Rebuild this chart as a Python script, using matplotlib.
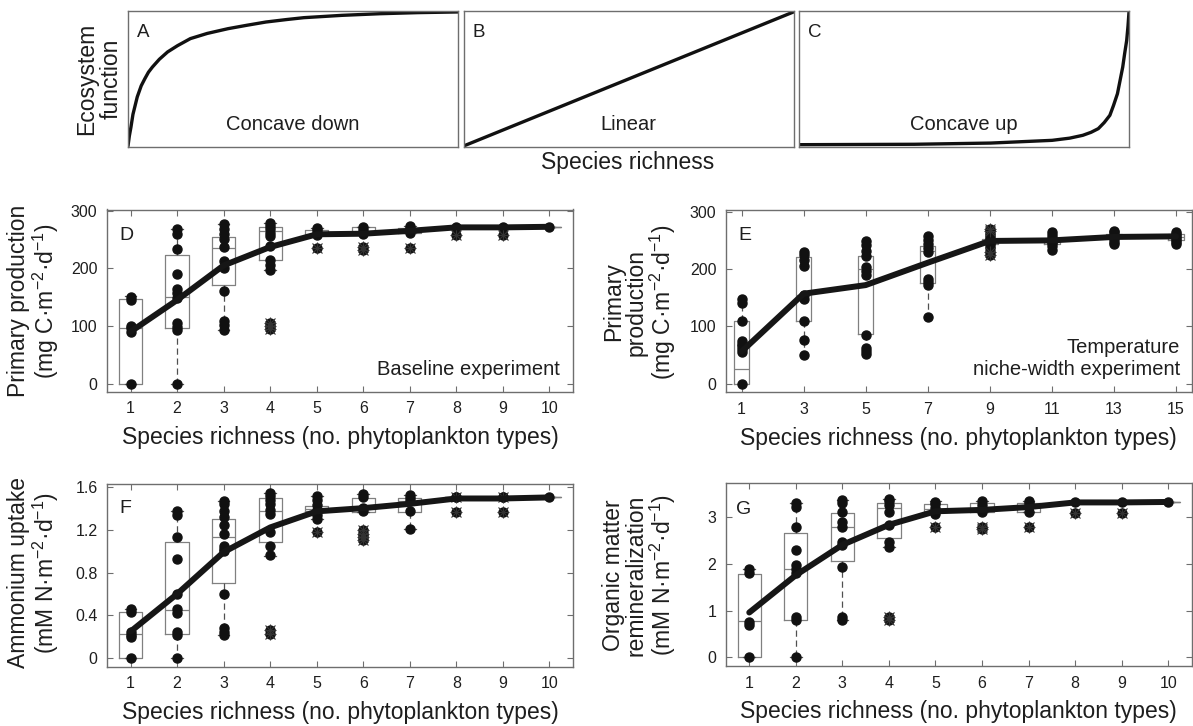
import matplotlib
matplotlib.use('Agg')
import matplotlib.pyplot as plt

plt.rcParams['font.family'] = ['Liberation Sans', 'DejaVu Sans']
plt.rcParams['mathtext.fontset'] = 'custom'
plt.rcParams['mathtext.rm'] = 'Liberation Sans'
plt.rcParams['mathtext.it'] = 'Liberation Sans:italic'
plt.rcParams['mathtext.bf'] = 'Liberation Sans:bold'

# ---------------- data: conceptual curves ----------------
A_x = [0.0, 0.004, 0.009, 0.015, 0.028, 0.04, 0.051, 0.062, 0.074, 0.095, 0.12, 0.15, 0.189,
       0.24, 0.303, 0.36, 0.418, 0.48, 0.533, 0.648, 0.763, 0.878, 1.0]
A_y = [0.007, 0.08, 0.147, 0.24, 0.368, 0.45, 0.502, 0.55, 0.588, 0.645, 0.699, 0.745, 0.797,
       0.835, 0.87, 0.895, 0.919, 0.937, 0.951, 0.968, 0.98, 0.988, 0.993]
B_x = [0.0, 1.0]
B_y = [0.007, 0.993]
C_x = [0.0, 0.349, 0.581, 0.767, 0.82, 0.86, 0.885, 0.907, 0.925, 0.942, 0.953, 0.965, 0.973,
       0.981, 0.987, 0.993, 0.997, 1.0]
C_y = [0.017, 0.02, 0.029, 0.049, 0.065, 0.086, 0.108, 0.135, 0.18, 0.233, 0.305, 0.392, 0.49,
       0.588, 0.69, 0.784, 0.89, 0.993]
top_labels = ["A", "B", "C"]
top_names = ["Concave down", "Linear", "Concave up"]

# ---------------- data: panel D (baseline, primary production) ----------------
D_x = [1, 2, 3, 4, 5, 6, 7, 8, 9, 10]
D_q1 = [0, 96, 171, 214, 258, 260, 261, 272, 272, 272]
D_med = [96, 151, 235, 264, 259, 261, 266, 272, 272, 272]
D_q3 = [146, 223, 255, 272, 267, 272, 270, 272, 272, 272]
D_lo = [0, 0, 93, 197, 258, 259, 262, 272, 272, 272]
D_hi = [152, 268, 276, 278, 270, 271, 273, 272, 272, 272]
D_mean = [90, 145, 205, 237, 259, 260, 265, 271, 271, 272]
D_pts = [[0, 90, 96, 100, 145, 151],
         [0, 93, 99, 106, 148, 157, 164, 190, 234, 260, 268],
         [93, 101, 108, 160, 201, 212, 237, 250, 259, 269, 276],
         [197, 205, 214, 238, 256, 262, 268, 273, 278],
         [258, 262, 266, 270],
         [259, 262, 266, 271],
         [262, 266, 270, 273],
         [272], [272], [272]]
D_out = [[], [], [], [94, 100, 105], [236], [231, 237], [236], [258], [258], []]

# ---------------- data: panel E (temperature niche-width) ----------------
E_x = [1, 3, 5, 7, 9, 11, 13, 15]
E_q1 = [0, 109, 86, 176, 244, 244, 254, 251]
E_med = [25, 155, 200, 232, 247, 248, 257, 256]
E_q3 = [110, 221, 223, 241, 252, 252, 262, 262]
E_lo = [0, 50, 52, 116, 236, 234, 243, 243]
E_hi = [147, 231, 249, 257, 262, 265, 267, 265]
E_mean = [56, 157, 172, 211, 249, 250, 256, 257]
E_pts = [[0, 55, 60, 66, 70, 75, 110, 140, 147],
         [50, 76, 109, 148, 155, 205, 215, 224, 230],
         [52, 57, 63, 85, 190, 196, 204, 223, 231, 242, 249],
         [116, 172, 178, 182, 229, 236, 243, 250, 257],
         [236, 242, 245, 248, 252, 256, 262],
         [234, 240, 245, 248, 251, 255, 260, 265],
         [243, 248, 252, 256, 260, 264, 267],
         [243, 247, 250, 254, 258, 262, 265]]
E_out = [[], [], [], [], [224, 229, 266, 270], [], [], []]

# ---------------- data: panel F (ammonium uptake) ----------------
F_x = [1, 2, 3, 4, 5, 6, 7, 8, 9, 10]
F_q1 = [0, 0.23, 0.70, 1.08, 1.37, 1.36, 1.36, 1.5, 1.5, 1.5]
F_med = [0.23, 0.45, 1.13, 1.37, 1.39, 1.41, 1.47, 1.5, 1.5, 1.5]
F_q3 = [0.43, 1.08, 1.30, 1.49, 1.42, 1.49, 1.49, 1.5, 1.5, 1.5]
F_lo = [0, 0, 0.22, 0.95, 1.3, 1.36, 1.21, 1.5, 1.5, 1.5]
F_hi = [0.46, 1.37, 1.47, 1.54, 1.51, 1.53, 1.52, 1.5, 1.5, 1.5]
F_mean = [0.25, 0.60, 0.99, 1.22, 1.37, 1.40, 1.44, 1.49, 1.49, 1.50]
F_pts = [[0, 0.2, 0.22, 0.25, 0.43, 0.46],
         [0, 0.22, 0.25, 0.42, 0.46, 0.6, 0.93, 1.13, 1.34, 1.37],
         [0.22, 0.25, 0.28, 0.6, 1.0, 1.02, 1.05, 1.16, 1.24, 1.32, 1.37, 1.44, 1.47],
         [0.96, 1.05, 1.18, 1.35, 1.38, 1.44, 1.48, 1.51, 1.54],
         [1.3, 1.34, 1.38, 1.43, 1.48, 1.51],
         [1.37, 1.4, 1.5, 1.53],
         [1.21, 1.37, 1.47, 1.49, 1.52],
         [1.5], [1.5], [1.5]]
F_out = [[], [], [], [0.23, 0.26], [1.18], [1.1, 1.13, 1.16, 1.2], [], [1.36, 1.5], [1.36, 1.5], []]

# ---------------- data: panel G (organic matter remineralization) ----------------
G_x = [1, 2, 3, 4, 5, 6, 7, 8, 9, 10]
G_q1 = [0, 0.8, 2.06, 2.56, 3.12, 3.12, 3.12, 3.33, 3.33, 3.33]
G_med = [0.78, 1.89, 2.8, 3.21, 3.17, 3.17, 3.25, 3.33, 3.33, 3.33]
G_q3 = [1.79, 2.66, 3.09, 3.31, 3.28, 3.3, 3.3, 3.33, 3.33, 3.33]
G_lo = [0, 0, 0.79, 2.36, 3.12, 3.12, 3.12, 3.33, 3.33, 3.33]
G_hi = [1.9, 3.3, 3.37, 3.39, 3.34, 3.34, 3.34, 3.33, 3.33, 3.33]
G_mean = [0.96, 1.76, 2.41, 2.84, 3.13, 3.16, 3.22, 3.32, 3.32, 3.33]
G_pts = [[0, 0.7, 0.76, 1.8, 1.9],
         [0, 0.79, 0.87, 1.8, 1.9, 1.98, 2.31, 2.8, 3.23, 3.3],
         [0.79, 0.87, 1.94, 2.41, 2.48, 2.8, 2.89, 3.12, 3.3, 3.37],
         [2.36, 2.48, 2.84, 3.12, 3.26, 3.34, 3.39],
         [3.08, 3.12, 3.2, 3.28, 3.32],
         [3.12, 3.18, 3.26, 3.34],
         [3.12, 3.25, 3.3, 3.34],
         [3.33], [3.33], [3.33]]
G_out = [[], [], [], [0.8, 0.87], [2.8], [2.75, 2.8], [2.8], [3.1], [3.1], []]

# ---------------- figure ----------------
W, H = 1193, 726
fig = plt.figure(figsize=(W / 100, H / 100), dpi=100)
TXT = '#1e1e1e'
SPINE = '#6e6e6e'
BOXC = '#808080'
WHC = '#505050'


def px_axes(l, t, r, b):
    return fig.add_axes([l / W, 1 - b / H, (r - l) / W, (b - t) / H])


def style_spines(ax):
    for s in ax.spines.values():
        s.set_color(SPINE)
        s.set_linewidth(1.0)


# ---- top conceptual panels ----
top_boxes = [(128, 11, 458, 147), (463.5, 11, 793.5, 147), (799, 11, 1129, 147)]
curves = [(A_x, A_y), (B_x, B_y), (C_x, C_y)]
for (l, t, r, b), (cx, cy), lab, name in zip(top_boxes, curves, top_labels, top_names):
    ax = px_axes(l, t, r, b)
    ax.plot(cx, cy, color='#111111', lw=2.4, solid_joinstyle='round', solid_capstyle='round')
    ax.set_xlim(0, 1)
    ax.set_ylim(0, 1)
    ax.set_xticks([])
    ax.set_yticks([])
    style_spines(ax)
    ax.text(0.028, 0.81, lab, transform=ax.transAxes, fontsize=13.5, color=TXT, va='baseline', ha='left')
    ax.text(0.5, 0.125, name, transform=ax.transAxes, fontsize=14.5, color=TXT, va='baseline', ha='center')

fig.text(99 / W, 1 - 79 / H, "Ecosystem\nfunction", rotation=90, ha='center', va='center',
         fontsize=16.5, color=TXT, multialignment='center', linespacing=1.05)
fig.text(628 / W, 1 - 163 / H, "Species richness", ha='center', va='center', fontsize=16.5, color=TXT)

XLAB = "Species richness (no. phytoplankton types)"


def box_panel(ax, xs, q1, med, q3, lo, hi, pts, outs, means, xlim, ylim, yticks, yticklabels):
    stats = [dict(q1=a, med=m, q3=c, whislo=w0, whishi=w1, fliers=[])
             for a, m, c, w0, w1 in zip(q1, med, q3, lo, hi)]
    ax.bxp(stats, positions=xs, widths=0.5, capwidths=0.25, showfliers=False, manage_ticks=False,
           boxprops=dict(color=BOXC, lw=0.9),
           medianprops=dict(color=BOXC, lw=0.9),
           whiskerprops=dict(color=WHC, lw=0.9, linestyle=(0, (5, 3))),
           capprops=dict(color=WHC, lw=0.9))
    for x, p in zip(xs, pts):
        ax.plot([x] * len(p), p, 'o', color='#111111', ms=6.5, mec='#111111', zorder=4)
    for x, o in zip(xs, outs):
        if o:
            ax.plot([x] * len(o), o, 'o', color='#111111', ms=6.5, zorder=4)
            ax.plot([x] * len(o), o, '+', color='#333333', ms=9, mew=0.8, zorder=4)
            ax.plot([x] * len(o), o, 'x', color='#333333', ms=7, mew=0.8, zorder=4)
    ax.plot(xs, means, color='#161616', lw=4.3, solid_joinstyle='round', solid_capstyle='round', zorder=5)
    ax.set_xlim(*xlim)
    ax.set_ylim(*ylim)
    ax.set_xticks(xs)
    ax.set_xticklabels([str(v) for v in xs])
    ax.set_yticks(yticks)
    ax.set_yticklabels(yticklabels)
    ax.tick_params(direction='in', length=4, width=0.8, color=SPINE, top=True, right=True,
                   labelsize=11.5, pad=7, labelcolor=TXT)
    style_spines(ax)
    ax.set_xlabel(XLAB, fontsize=16.5, color=TXT, labelpad=7)


# ---- panel D ----
axD = px_axes(107.3, 209.5, 572.7, 391.7)
box_panel(axD, D_x, D_q1, D_med, D_q3, D_lo, D_hi, D_pts, D_out, D_mean,
          (0.5, 10.5), (-14, 302), [0, 100, 200, 300], ['0', '100', '200', '300'])
axD.text(0.027, 0.833, "D", transform=axD.transAxes, fontsize=14, color=TXT, va='baseline')
axD.text(0.973, 0.092, "Baseline experiment", transform=axD.transAxes, fontsize=14.5, color=TXT,
         ha='right', va='baseline')
fig.text(34 / W, 1 - 301 / H, "Primary production\n(mg C·m$^{-2}$·d$^{-1}$)", rotation=90,
         ha='center', va='center', fontsize=16.5, color=TXT, multialignment='center', linespacing=1.05)

# ---- panel E ----
axE = px_axes(726, 210, 1191.5, 392.3)
box_panel(axE, E_x, E_q1, E_med, E_q3, E_lo, E_hi, E_pts, E_out, E_mean,
          (0.5, 15.5), (-15, 303), [0, 100, 200, 300], ['0', '100', '200', '300'])
axE.text(0.026, 0.833, "E", transform=axE.transAxes, fontsize=14, color=TXT, va='baseline')
axE.text(0.975, 0.215, "Temperature", transform=axE.transAxes, fontsize=14.5, color=TXT,
         ha='right', va='baseline')
axE.text(0.975, 0.095, "niche-width experiment", transform=axE.transAxes, fontsize=14.5, color=TXT,
         ha='right', va='baseline')
fig.text(640 / W, 1 - 302 / H, "Primary\nproduction\n(mg C·m$^{-2}$·d$^{-1}$)", rotation=90,
         ha='center', va='center', fontsize=16.5, color=TXT, multialignment='center', linespacing=1.0)

# ---- panel F ----
axF = px_axes(107.3, 484, 572.7, 666.7)
box_panel(axF, F_x, F_q1, F_med, F_q3, F_lo, F_hi, F_pts, F_out, F_mean,
          (0.5, 10.5), (-0.078, 1.625), [0, 0.4, 0.8, 1.2, 1.6], ['0', '0.4', '0.8', '1.2', '1.6'])
axF.text(0.027, 0.84, "F", transform=axF.transAxes, fontsize=14, color=TXT, va='baseline')
fig.text(34 / W, 1 - 573 / H, "Ammonium uptake\n(mM N·m$^{-2}$·d$^{-1}$)", rotation=90,
         ha='center', va='center', fontsize=16.5, color=TXT, multialignment='center', linespacing=1.05)

# ---- panel G ----
axG = px_axes(726, 483.3, 1191.5, 666)
box_panel(axG, G_x, G_q1, G_med, G_q3, G_lo, G_hi, G_pts, G_out, G_mean,
          (0.5, 10.5), (-0.187, 3.73), [0, 1, 2, 3], ['0', '1', '2', '3'])
axG.text(0.022, 0.832, "G", transform=axG.transAxes, fontsize=14, color=TXT, va='baseline')
fig.text(640 / W, 1 - 575 / H, "Organic matter\nremineralization\n(mM N·m$^{-2}$·d$^{-1}$)", rotation=90,
         ha='center', va='center', fontsize=16.5, color=TXT, multialignment='center', linespacing=1.0)

fig.savefig('out.png', dpi=100)
